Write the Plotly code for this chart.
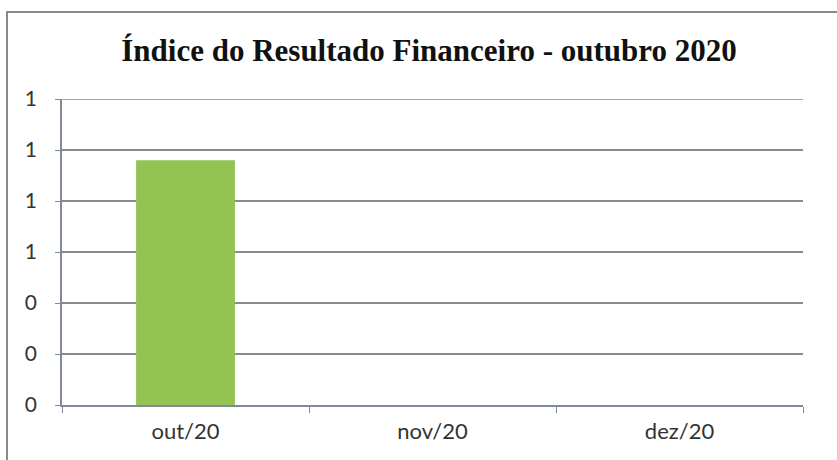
import plotly.graph_objects as go

categories = ["out/20", "nov/20", "dez/20"]
values = [0.96, None, None]
y_ticks = [0, 0.2, 0.4, 0.6, 0.8, 1.0, 1.2]
title_text = "Índice do Resultado Financeiro - outubro 2020"

fig = go.Figure()
fig.add_trace(go.Bar(x=categories, y=values, marker=dict(color="#92c353", line=dict(width=0)), width=0.4))

W, H = 837, 460
l, r, t, b = 62, 34, 99, 55
pw, ph = W - l - r, H - t - b

def px(x):
    return (x - l) / pw

def py(y):
    return (H - b - y) / ph

fig.add_shape(type="rect", xref="paper", yref="paper",
              x0=px(7), x1=px(845), y0=py(12), y1=py(470),
              line=dict(color="#8a8a8a", width=2), fillcolor="rgba(0,0,0,0)", layer="below")
# top gridline (at the axis range end)
fig.add_shape(type="line", xref="paper", yref="y", x0=0, x1=1, y0=y_ticks[-1], y1=y_ticks[-1],
              line=dict(color="#8a8a8a", width=1.5), layer="below")

fig.update_layout(
    width=W, height=H,
    margin=dict(l=l, r=r, t=t, b=b),
    paper_bgcolor="white", plot_bgcolor="white",
    showlegend=False,
    title=dict(text="<b>" + title_text + "</b>", x=px(429), xref="paper", xanchor="center",
               y=1 - 50 / H, yanchor="middle",
               font=dict(family="Liberation Serif", size=31, color="#111")),
    xaxis=dict(type="category", categoryorder="array", categoryarray=categories,
               showline=True, linecolor="#7f8a96", linewidth=1.5,
               ticks="outside", tickson="boundaries", ticklen=6, tickcolor="#7f8a96",
               ticklabelstandoff=6,
               tickfont=dict(family="Lato", size=22, color="#333"),
               showgrid=False, range=[-0.5, 2.5]),
    yaxis=dict(range=[0, 1.2], tickvals=y_ticks, tickformat=".0f",
               showgrid=True, gridcolor="#8a8a8a", gridwidth=1.5,
               showline=True, linecolor="#7f8a96", linewidth=1.5,
               ticks="outside", ticklen=5, tickcolor="#7f8a96",
               ticklabelstandoff=14,
               tickfont=dict(family="Lato", size=21, color="#333"),
               zeroline=False),
)

fig.write_html("out.html")
